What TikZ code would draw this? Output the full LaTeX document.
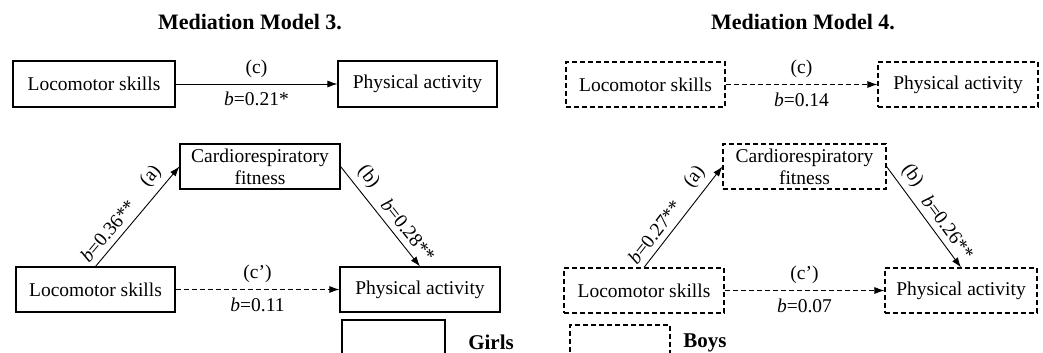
\documentclass[tikz,border=0pt]{standalone}
\usepackage{fontspec}
\setmainfont{Liberation Serif}
\usetikzlibrary{arrows.meta}
\tikzset{
  box/.style={draw, line width=1.1pt, inner sep=0pt, align=center, font=\fontsize{19.5}{22}\selectfont},
  dbox/.style={box, dash pattern=on 5pt off 3pt},
  conn/.style={line width=0.9pt, -{Latex[length=10pt,width=7pt]}},
  dconn/.style={conn, dash pattern=on 5pt off 3pt},
  lbl/.style={font=\fontsize{19.5}{22}\selectfont, inner sep=2pt},
  albl/.style={lbl, above=4pt},
  blbl/.style={lbl, below=6pt},
  slbl/.style={lbl, sloped, above, inner sep=6pt},
  ttl/.style={font=\fontsize{22}{26}\selectfont\bfseries},
  leg/.style={font=\fontsize{21}{24}\selectfont\bfseries},
}
\begin{document}
\begin{tikzpicture}[x=1pt,y=-1pt]
\useasboundingbox (0,0) rectangle (1043,353);
\clip (0,0) rectangle (1043,353);
\fill[white] (0,0) rectangle (1043,353);
% titles
\node[ttl] (t3) at (250,22) {Mediation Model 3.};
\node[ttl] (t4) at (803,22) {Mediation Model 4.};
% Model 3
\node[box, minimum width=162pt, minimum height=46pt] (L1) at (94,84) {Locomotor skills};
\node[box, minimum width=159pt, minimum height=46pt] (P1) at (417.5,84) {Physical activity};
\draw[conn] (L1.east) -- node[albl] {(c)} node[blbl] {\textit{b}=0.21*} (P1.west);
\node[box, minimum width=160pt, minimum height=45pt] (C2) at (260,166.5) {Cardiorespiratory\\fitness};
\node[box, minimum width=159pt, minimum height=45pt] (L2) at (95.5,289.5) {Locomotor skills};
\node[box, minimum width=160pt, minimum height=45pt] (P2) at (420,289.5) {Physical activity};
\draw[conn] (L2.north) -- node[slbl, pos=0.27] {\textit{b}=0.36**} node[slbl, pos=0.8] {(a)} (C2.west);
\draw[conn] (C2.east) -- node[slbl, pos=0.2] {(b)} node[slbl, pos=0.72] {\textit{b}=0.28**} (P2.north);
\draw[dconn] (L2.east) -- node[albl] {(c’)} node[blbl] {\textit{b}=0.11} (P2.west);
\node[box, minimum width=103pt, minimum height=50pt] (G) at (393.5,345) {};
\node[leg] (Gt) at (491,342) {Girls};
% Model 4
\node[dbox, minimum width=159pt, minimum height=45pt] (L3) at (645.5,84.5) {Locomotor skills};
\node[dbox, minimum width=160pt, minimum height=45pt] (P3) at (958,84.5) {Physical activity};
\draw[dconn] (L3.east) -- node[albl] {(c)} node[blbl] {\textit{b}=0.14} (P3.west);
\node[dbox, minimum width=163pt, minimum height=45pt] (C4) at (804.5,166.5) {Cardiorespiratory\\fitness};
\node[dbox, minimum width=160pt, minimum height=45pt] (L4) at (644,290.5) {Locomotor skills};
\node[dbox, minimum width=152pt, minimum height=45pt] (P4) at (961,290.5) {Physical activity};
\draw[conn] (L4.north) -- node[slbl, pos=0.27] {\textit{b}=0.27**} node[slbl, pos=0.8] {(a)} (C4.west);
\draw[conn] (C4.east) -- node[slbl, pos=0.18] {(b)} node[slbl, pos=0.68] {\textit{b}=0.26**} (P4.north);
\draw[dconn] (L4.east) -- node[albl] {(c’)} node[blbl] {\textit{b}=0.07} (P4.west);
\node[dbox, minimum width=100pt, minimum height=50pt] (B) at (620,350) {};
\node[leg] (Bt) at (705,343) {Boys};
\end{tikzpicture}
\end{document}
